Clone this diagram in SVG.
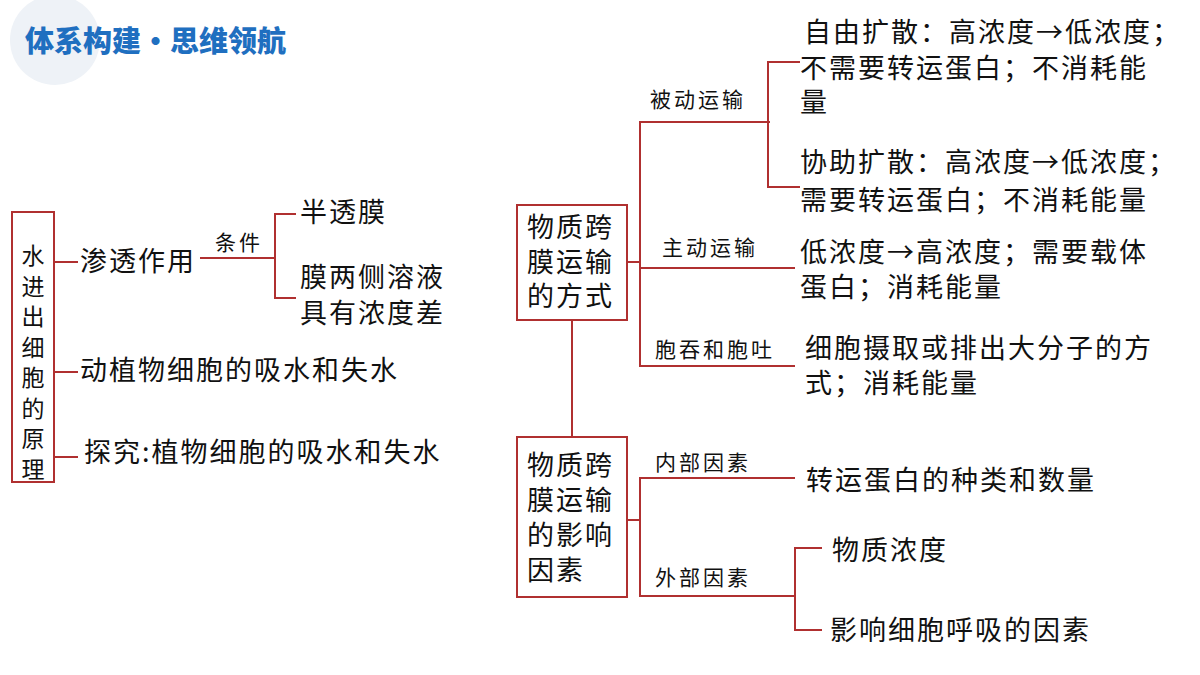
<svg xmlns="http://www.w3.org/2000/svg" width="1200" height="675" viewBox="0 0 1200 675">
<style>
.t{font-family:"Noto Sans CJK SC","Noto Sans",sans-serif;font-size:27px;letter-spacing:2px;fill:#111}
.v{font-family:"Noto Sans CJK SC","Noto Sans",sans-serif;font-size:23px;fill:#111}
.s{font-family:"Noto Sans CJK SC","Noto Sans",sans-serif;font-size:21px;letter-spacing:3px;fill:#111}
.b{fill:#fff;stroke:#b03030;stroke-width:2}
.c line,.c path{stroke:#b03030;stroke-width:2;fill:none}
</style>
<rect width="1200" height="675" fill="#fff"/>
<circle cx="55" cy="40" r="45" fill="#eef2f7"/>
<text x="25" y="52" style="font-family:'Noto Sans CJK SC',sans-serif;font-size:29px;font-weight:900;fill:#1f6fc0">体系构建•思维领航</text>
<g class="c">
<line x1="54" y1="262" x2="78" y2="262"/>
<line x1="200" y1="258" x2="275" y2="258"/>
<path d="M296 214H275V298H296"/>
<line x1="54" y1="372" x2="78" y2="372"/>
<line x1="54" y1="457" x2="78" y2="457"/>
<line x1="572" y1="320" x2="572" y2="437"/>
<path d="M627 262H640"/>
<path d="M770 122H640V366H795M640 268H795"/>
<path d="M800 62H768V187H800"/>
<path d="M627 520H640M795 478H640V596H795"/>
<path d="M822 548H795V630H822"/>
</g>
<g id="left">
<rect class="b" x="12" y="212" width="42" height="270"/>
<text class="v" text-anchor="middle"><tspan x="33" y="264">水</tspan><tspan x="33" y="295">进</tspan><tspan x="33" y="325">出</tspan><tspan x="33" y="356">细</tspan><tspan x="33" y="386">胞</tspan><tspan x="33" y="417">的</tspan><tspan x="33" y="447">原</tspan><tspan x="33" y="478">理</tspan></text>
</g>
<g id="left-items">
<text class="t" x="80" y="271">渗透作用</text>
<text class="s" x="215" y="250">条件</text>
<text class="t" x="300" y="222">半透膜</text>
<text class="t" x="300" y="287">膜两侧溶液</text>
<text class="t" x="300" y="323">具有浓度差</text>
<text class="t" x="80" y="380">动植物细胞的吸水和失水</text>
<text class="t" x="84" y="462">探究:植物细胞的吸水和失水</text>
</g>
<g id="box1">
<rect class="b" x="517" y="205" width="110" height="115"/>
<text class="t" x="527" y="237">物质跨</text><text class="t" x="527" y="272">膜运输</text><text class="t" x="527" y="306">的方式</text>
</g>
<g id="box2">
<rect class="b" x="517" y="437" width="110" height="160"/>
<text class="t" x="527" y="475">物质跨</text><text class="t" x="527" y="510">膜运输</text><text class="t" x="527" y="545">的影响</text><text class="t" x="527" y="580">因素</text>
</g>
<g id="right">
<text class="s" x="650" y="107">被动运输</text>
<text class="s" x="662" y="255">主动运输</text>
<text class="s" x="655" y="357">胞吞和胞吐</text>
<text class="t" x="804" y="42">自由扩散：高浓度→低浓度；</text>
<text class="t" x="800" y="78">不需要转运蛋白；不消耗能</text>
<text class="t" x="800" y="112">量</text>
<text class="t" x="800" y="172">协助扩散：高浓度→低浓度；</text>
<text class="t" x="800" y="210">需要转运蛋白；不消耗能量</text>
<text class="t" x="800" y="262">低浓度→高浓度；需要载体</text>
<text class="t" x="800" y="297">蛋白；消耗能量</text>
<text class="t" x="805" y="358">细胞摄取或排出大分子的方</text>
<text class="t" x="805" y="393">式；消耗能量</text>
<text class="s" x="655" y="470">内部因素</text>
<text class="s" x="655" y="585">外部因素</text>
<text class="t" x="806" y="490">转运蛋白的种类和数量</text>
<text class="t" x="832" y="560">物质浓度</text>
<text class="t" x="830" y="640">影响细胞呼吸的因素</text>
</g>
</svg>
